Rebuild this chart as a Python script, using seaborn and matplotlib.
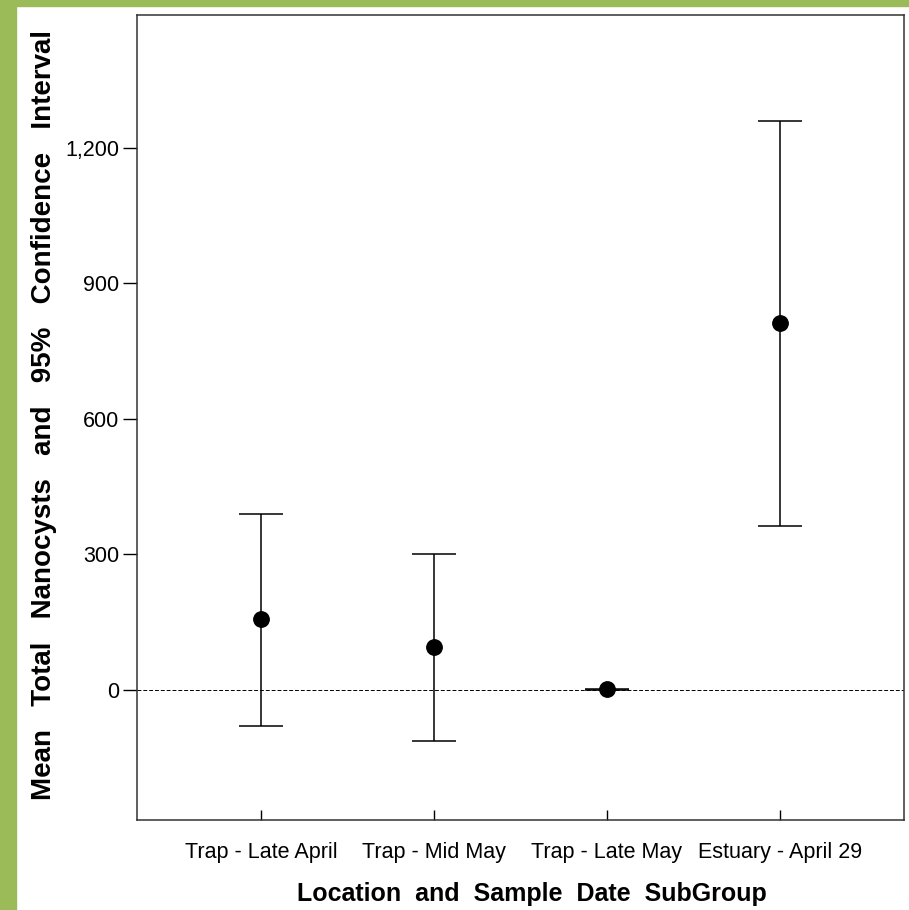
import matplotlib
matplotlib.use("Agg")
import matplotlib.pyplot as plt
import seaborn as sns
import pandas as pd
import numpy as np

categories = ["Trap - Late April", "Trap - Mid May", "Trap - Late May", "Estuary - April 29"]
means = [157, 95, 1, 812]
ci_low = [-80, -113, 0, 363]
ci_high = [390, 301, 2, 1260]
yticks = [0, 300, 600, 900, 1200]
ytick_labels = ["0", "300", "600", "900", "1,200"]

df = pd.DataFrame({"group": categories, "mean": means, "lo": ci_low, "hi": ci_high})

sns.set_style("white")
plt.rcParams["font.family"] = ["Liberation Sans Narrow", "Liberation Sans", "DejaVu Sans"]
plt.rcParams["text.color"] = "black"
plt.rcParams["xtick.color"] = "black"
plt.rcParams["ytick.color"] = "black"
plt.rcParams["axes.labelcolor"] = "black"

fig = plt.figure(figsize=(9.09, 9.10), dpi=100)
fig.patch.set_facecolor("white")
green = "#9BBB59"
fig.add_artist(plt.Rectangle((0, 1 - 6/910), 1, 6/910, transform=fig.transFigure, color=green, zorder=0))
fig.add_artist(plt.Rectangle((0, 0), 16/909, 1, transform=fig.transFigure, color=green, zorder=0))

ax = fig.add_axes([137/909, 90/910, 767/909, 805/910])

x = np.arange(len(categories))
ax.errorbar(x, df["mean"], yerr=[df["mean"] - df["lo"], df["hi"] - df["mean"]],
            fmt="none", ecolor="black", elinewidth=1.1, capsize=16, capthick=1.1, zorder=2)
sns.scatterplot(data=df, x="group", y="mean", ax=ax, color="black", s=125,
                marker="o", edgecolor="black", zorder=3, legend=False)
ax.axhline(0, color="black", linestyle=(0, (4, 2)), linewidth=0.7, zorder=1)

ax.set_xlim(-0.72, 3.72)
ax.set_ylim(-288, 1494)
ax.set_yticks(yticks)
ax.set_yticklabels(ytick_labels)
ax.set_xticks(x)
ax.set_xticklabels(categories)
ax.tick_params(axis="y", direction="out", length=10, width=1, labelsize=15.5, left=True, pad=3)
ax.tick_params(axis="x", direction="in", length=7, width=1, labelsize=15.5, bottom=True, pad=16)
for s in ax.spines.values():
    s.set_color("#333333")
    s.set_linewidth(1.1)

ax.set_xlabel("Location  and  Sample  Date  SubGroup", fontsize=18, fontweight="bold",
              family=["Liberation Sans", "DejaVu Sans"])
ax.xaxis.set_label_coords(0.515, -0.077)
ax.set_ylabel("Mean   Total   Nanocysts   and   95%   Confidence   Interval", fontsize=20,
              fontweight="bold", family=["Liberation Sans", "DejaVu Sans"])
ax.yaxis.set_label_coords(-0.104, 0.503)

fig.savefig("out.png", dpi=100)
